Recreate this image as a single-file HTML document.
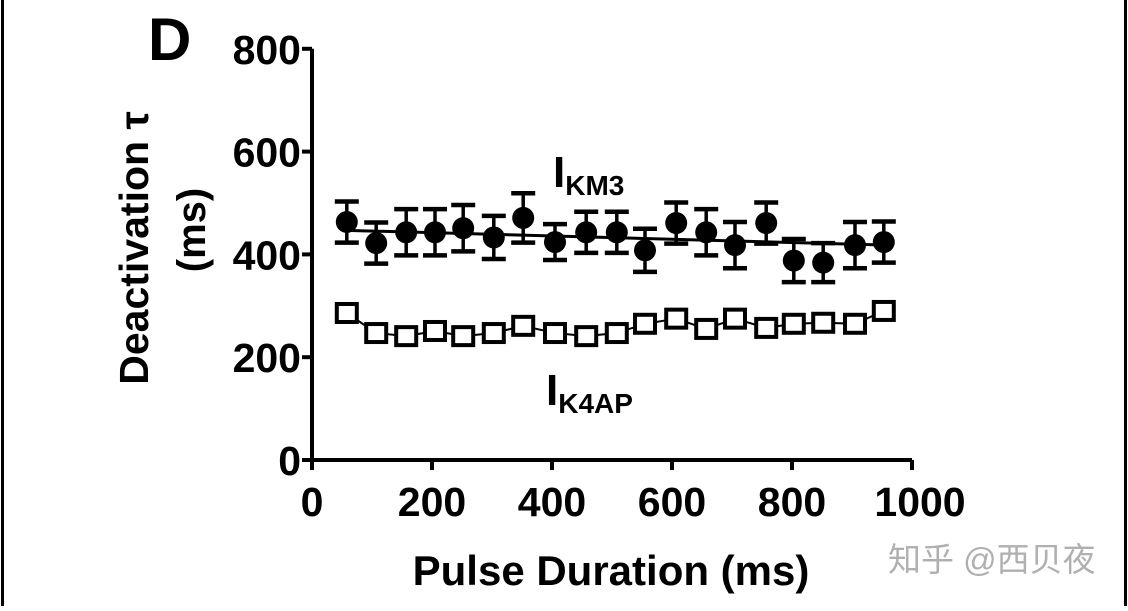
<!DOCTYPE html>
<html><head><meta charset="utf-8"><style>
html,body{margin:0;padding:0;background:#fff;}
svg text{font-family:"Liberation Sans",Arial,sans-serif;font-weight:bold;fill:#000;}
</style></head><body>
<svg id="chart" width="1128" height="606" viewBox="0 0 1128 606" xmlns="http://www.w3.org/2000/svg">
<rect x="0" y="0" width="1128" height="606" fill="#fff"/>
<line x1="2.5" y1="0" x2="2.5" y2="606" stroke="#000" stroke-width="3"/>
<line x1="1125.5" y1="0" x2="1125.5" y2="606" stroke="#000" stroke-width="3"/>
<text x="148" y="60" font-size="60">D</text>
<g>
<text transform="translate(148,248) rotate(-90)" text-anchor="middle" font-size="41">Deactivation τ</text>
<text transform="translate(205,230) rotate(-90)" text-anchor="middle" font-size="40">(ms)</text>
</g>
<text x="611" y="585" text-anchor="middle" font-size="42">Pulse Duration (ms)</text>
<g id="axes"></g>
<g id="marks"></g>
<text x="553" y="187" font-size="44">I<tspan font-size="28" dy="8">KM3</tspan></text>
<text x="546" y="405" font-size="44">I<tspan font-size="28" dy="8">K4AP</tspan></text>
<text x="888" y="571" font-size="33" style="font-weight:normal;fill:#b0b0b0;font-family:'Liberation Sans','Noto Sans CJK SC',sans-serif;">知乎 @西贝夜</text>
</svg>
<script>
const xTicks = [0, 200, 400, 600, 800, 1000];
const yTicks = [0, 200, 400, 600, 800];
const xValues = [58, 107, 157, 205, 252, 303, 352, 405, 457, 508, 555, 607, 657, 705, 757, 803, 852, 905, 953];
const km3Values = [463, 422, 443, 443, 451, 433, 471, 424, 443, 443, 408, 461, 443, 418, 461, 388, 384, 418, 424];
const km3Errors = [40, 40, 45, 45, 45, 42, 48, 35, 40, 40, 42, 40, 45, 45, 40, 42, 38, 45, 40];
const k4apValues = [286, 247, 241, 251, 241, 247, 261, 247, 241, 247, 265, 275, 255, 275, 257, 265, 267, 265, 290];
const fitLine = [[50, 447], [960, 418]];

const NS = 'http://www.w3.org/2000/svg';
const X = v => 312 + v * 0.6;
const Y = v => 460 - v * 0.514;
function mk(tag, attrs, parent) {
  const e = document.createElementNS(NS, tag);
  for (const k in attrs) e.setAttribute(k, attrs[k]);
  parent.appendChild(e);
  return e;
}
const axes = document.getElementById('axes');
const marks = document.getElementById('marks');
let e;
e = mk('line', {x1: X(0), y1: Y(0), x2: X(0), y2: Y(800), stroke: '#000', 'stroke-width': 4}, axes);


e = mk('line', {x1: X(0), y1: Y(0), x2: X(1000), y2: Y(0), stroke: '#000', 'stroke-width': 4}, axes);


yTicks.forEach(t => {
  e = mk('line', {x1: X(0) - 10, y1: Y(t), x2: X(0), y2: Y(t), stroke: '#000', 'stroke-width': 4}, axes);
  
  
  e = mk('text', {x: X(0) - 11, y: Y(t) + 15, 'text-anchor': 'end', 'font-size': 41}, axes);
  e.textContent = t;
  
  
});
xTicks.forEach(t => {
  e = mk('line', {x1: X(t), y1: Y(0), x2: X(t), y2: Y(0) + 10, stroke: '#000', 'stroke-width': 4}, axes);
  
  
  e = mk('text', {x: X(t) + (t === 1000 ? 8 : 0), y: Y(0) + 56, 'text-anchor': 'middle', 'font-size': 41}, axes);
  e.textContent = t;
  
  
});
e = mk('line', {x1: X(fitLine[0][0]), y1: Y(fitLine[0][1]), x2: X(fitLine[1][0]), y2: Y(fitLine[1][1]), stroke: '#000', 'stroke-width': 3}, marks);


e = mk('polyline', {points: xValues.map((x, i) => X(x) + ',' + Y(k4apValues[i])).join(' '), fill: 'none', stroke: '#000', 'stroke-width': 2}, marks);


xValues.forEach((x, i) => {
  const cx = X(x), cy = Y(km3Values[i]), top = Y(km3Values[i] + km3Errors[i]), bot = Y(km3Values[i] - km3Errors[i]);
  const g = mk('g', {}, marks);
  
  
  mk('line', {x1: cx, y1: top, x2: cx, y2: bot, stroke: '#000', 'stroke-width': 3.5}, g);
  mk('line', {x1: cx - 12, y1: top, x2: cx + 12, y2: top, stroke: '#000', 'stroke-width': 4.5}, g);
  mk('line', {x1: cx - 12, y1: bot, x2: cx + 12, y2: bot, stroke: '#000', 'stroke-width': 4.5}, g);
  mk('circle', {cx: cx, cy: cy, r: 11, fill: '#000'}, g);
  e = mk('rect', {x: X(x) - 10, y: Y(k4apValues[i]) - 9, width: 20, height: 18, fill: '#fff', stroke: '#000', 'stroke-width': 4}, marks);
  
  
});
</script>
</body></html>
